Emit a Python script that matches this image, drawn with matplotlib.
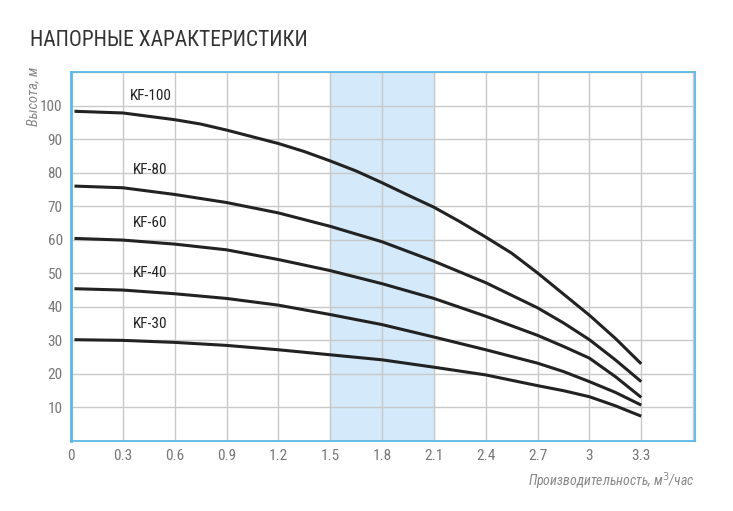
import matplotlib.pyplot as plt
from matplotlib import font_manager

# расход, м3/час (для KF-100 точки снимались чаще)
flow100 = [0.02, 0.3, 0.6, 0.75, 0.9, 1.05, 1.2, 1.35, 1.5, 1.65, 1.8, 1.95,
           2.1, 2.25, 2.4, 2.55, 2.7, 2.85, 3.0, 3.15, 3.3]
flow = [0.02, 0.3, 0.6, 0.9, 1.2, 1.5, 1.8, 2.1, 2.4, 2.7, 2.85, 3.0, 3.15, 3.3]

# напор, м
kf100 = [98.3, 97.8, 95.8, 94.5, 92.7, 90.7, 88.7, 86.3, 83.5, 80.5, 77.0, 73.3,
         69.7, 65.4, 60.8, 56.0, 50.1, 43.8, 37.5, 30.6, 23.0]
kf80 = [76.0, 75.5, 73.5, 71.1, 68.0, 64.0, 59.4, 53.6, 47.2, 39.7, 35.2, 30.2, 24.2, 17.7]
kf60 = [60.4, 59.9, 58.7, 57.0, 54.1, 50.8, 46.9, 42.5, 37.2, 31.5, 28.2, 24.7, 19.2, 13.0]
kf40 = [45.4, 45.0, 43.9, 42.5, 40.5, 37.7, 34.7, 31.0, 27.2, 23.2, 20.7, 17.7, 14.5, 10.7]
kf30 = [30.2, 30.0, 29.4, 28.5, 27.2, 25.7, 24.2, 22.0, 19.7, 16.5, 15.0, 13.2, 10.5, 7.4]

curves = [(flow100, kf100), (flow, kf80), (flow, kf60), (flow, kf40), (flow, kf30)]
names = ['KF-100', 'KF-80', 'KF-60', 'KF-40', 'KF-30']
label_y = [103, 80.8, 65, 50, 35]

xticks = [0, 0.3, 0.6, 0.9, 1.2, 1.5, 1.8, 2.1, 2.4, 2.7, 3.0, 3.3]
xtick_labels = ['0', '0.3', '0.6', '0.9', '1.2', '1.5', '1.8', '2.1', '2.4', '2.7', '3', '3.3']
yticks = [10, 20, 30, 40, 50, 60, 70, 80, 90, 100]

# узкий шрифт, если есть
have = {f.name for f in font_manager.fontManager.ttflist}
fam = 'Roboto'
for cand in ['Liberation Sans Narrow', 'Roboto Condensed', 'Open Sans Condensed',
             'Noto Sans Condensed', 'DejaVu Sans Condensed']:
    if cand in have:
        fam = cand
        break
plt.rcParams['font.family'] = [fam, 'DejaVu Sans']

fig = plt.figure(figsize=(7.33, 5.11), dpi=100)
ax = fig.add_axes([0.0969, 0.137, 0.851, 0.722])

ax.axvspan(1.5, 2.1, color='#d4e9f9', zorder=0)

ax.set_xlim(0, 3.61)
ax.set_ylim(0, 110)
ax.set_xticks(xticks)
ax.set_xticklabels(xtick_labels)
ax.set_yticks(yticks)
ax.set_xticks([3.6], minor=True)
ax.set_yticks([110], minor=True)
ax.grid(True, which='both', color='#c9c9c9', linewidth=1)
ax.set_axisbelow(True)
ax.tick_params(length=0, labelsize=11, labelcolor='#777777', pad=6)
ax.tick_params(which='minor', length=0)

for s in ax.spines.values():
    s.set_color('#5cb8e6')
    s.set_linewidth(1.3)
ax.spines['left'].set_linewidth(2)

for (xs, vals), nm, ly in zip(curves, names, label_y):
    ax.plot(xs, vals, color='#222222', linewidth=2.2, solid_capstyle='butt',
            solid_joinstyle='round')
    ax.text(0.46, ly, nm, fontsize=11, color='#222222', ha='center', va='center')

fig.text(0.041, 0.92, 'НАПОРНЫЕ ХАРАКТЕРИСТИКИ', fontsize=15.5, color='#333333',
         ha='left', va='center')
fig.text(0.045, 0.812, 'Высота, м', fontsize=10.5, color='#888888', style='italic',
         rotation=90, ha='center', va='center')
fig.text(0.948, 0.058, 'Производительность, м$^3$/час', fontsize=10, color='#888888',
         style='italic', ha='right', va='center')

fig.savefig('out.png', dpi=100)
